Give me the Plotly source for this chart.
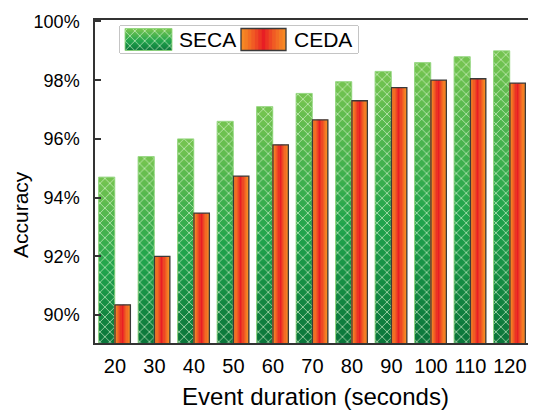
import plotly.graph_objects as go

# ---------------- data ----------------
durations = [20, 30, 40, 50, 60, 70, 80, 90, 100, 110, 120]
seca = [94.70, 95.40, 96.00, 96.60, 97.10, 97.55, 97.95, 98.30, 98.60, 98.80, 99.00]
ceda = [90.35, 92.00, 93.47, 94.73, 95.80, 96.65, 97.30, 97.75, 98.00, 98.05, 97.90]
y_ticks = [90, 92, 94, 96, 98, 100]
y_ticktext = [f"{v}%" for v in y_ticks]
series_names = ["SECA", "CEDA"]

# ---------------- style ----------------
FONT = "Liberation Sans, Arial, sans-serif"
Y0, Y1 = 89.05, 100.05
SECA_OFF, SECA_W = -4.15, 4.1
CEDA_OFF, CEDA_W = 0.0, 3.9
N_V = 26   # vertical gradient layers
N_H = 13   # horizontal gradient slices

green_stops = [(0.0, (10, 116, 58)), (0.45, (32, 164, 76)), (1.0, (118, 196, 80))]
orange = (246, 140, 36)
red = (232, 30, 36)

# page body has an 8px default margin -> work in screen pixels, shift by 8
PAGE = 8
W, H = 536 - PAGE, 412 - PAGE
# plot area in screen px: x 95..536, y 20..343
ML, MR, MT, MB = 95 - PAGE, 0, 20 - PAGE, H - (343 - PAGE)
pw, ph = W - ML - MR, H - MT - MB


def px_x(v):  # screen px -> paper
    return (v - PAGE - ML) / pw


def px_y(v):
    return (H - MB - (v - PAGE)) / ph


def interp(stops, t):
    for (t0, c0), (t1, c1) in zip(stops[:-1], stops[1:]):
        if t <= t1:
            f = (t - t0) / (t1 - t0)
            return "rgb(%d,%d,%d)" % tuple(round(a + (b - a) * f) for a, b in zip(c0, c1))
    return "rgb(%d,%d,%d)" % stops[-1][1]


def ceda_color(t):
    w = max(0.0, 1 - abs(2 * t - 1)) ** 1.3
    return "rgb(%d,%d,%d)" % tuple(round(a + (b - a) * w) for a, b in zip(orange, red))


fig = go.Figure()


def add_vertical_gradient(xs, bottoms, tops, off, width, xref, yref):
    for i in range(N_V):
        bases = [b + (t - b) * i / N_V for b, t in zip(bottoms, tops)]
        hs = [(t - b) / N_V * (1.6 if i < N_V - 1 else 1.0) for b, t in zip(bottoms, tops)]
        fig.add_trace(go.Bar(
            x=xs, y=hs, base=bases, offset=off, width=width,
            marker=dict(color=interp(green_stops, (i + 0.5) / N_V), line=dict(width=0)),
            xaxis=xref, yaxis=yref, showlegend=False, hoverinfo="skip"))
    hs = [t - b for b, t in zip(bottoms, tops)]
    fig.add_trace(go.Bar(
        x=xs, y=hs, base=bottoms, offset=off, width=width,
        marker=dict(color="rgba(0,0,0,0)",
                    line=dict(color="rgba(150,215,130,0.9)", width=1),
                    pattern=dict(shape="x", size=7, solidity=0.2,
                                 fgcolor="rgba(225,250,215,0.85)",
                                 bgcolor="rgba(0,0,0,0)", fillmode="replace")),
        xaxis=xref, yaxis=yref, showlegend=False, hoverinfo="skip"))


def add_horizontal_gradient(xs, bottoms, tops, off, width, xref, yref):
    step = width / N_H
    hs = [t - b for b, t in zip(bottoms, tops)]
    for j in range(N_H):
        w = step * 1.35 if j < N_H - 1 else step
        fig.add_trace(go.Bar(
            x=xs, y=hs, base=bottoms, offset=off + j * step, width=w,
            marker=dict(color=ceda_color((j + 0.5) / N_H), line=dict(width=0)),
            xaxis=xref, yaxis=yref, showlegend=False, hoverinfo="skip"))
    fig.add_trace(go.Bar(
        x=xs, y=hs, base=bottoms, offset=off, width=width,
        marker=dict(color="rgba(0,0,0,0)", line=dict(color="#3a3a3a", width=1.3)),
        xaxis=xref, yaxis=yref, showlegend=False, hoverinfo="skip"))


# main bars
add_vertical_gradient(durations, [89.0] * len(seca), seca, SECA_OFF, SECA_W, "x", "y")
add_horizontal_gradient(durations, [89.0] * len(ceda), ceda, CEDA_OFF, CEDA_W, "x", "y")

# ---------------- legend (helper axis in screen-pixel units) ----------------
add_vertical_gradient([148.5 - PAGE], [50.5 - PAGE], [28.5 - PAGE], -23.5, 47, "x2", "y2")
add_horizontal_gradient([263.5 - PAGE], [50.5 - PAGE], [28.5 - PAGE], -22.5, 45, "x2", "y2")

fig.add_shape(type="rect", xref="paper", yref="paper",
              x0=px_x(120), x1=px_x(358), y0=px_y(53), y1=px_y(26),
              line=dict(color="#8a8a8a", width=1), fillcolor="white", layer="below")

for name, xpos in zip(series_names, [177, 292]):
    fig.add_annotation(text=name, x=xpos - PAGE, y=39.5 - PAGE, xref="x2", yref="y2",
                       xanchor="left", yanchor="middle", showarrow=False,
                       font=dict(family=FONT, size=21, color="black"))

# y-axis title (placed as in the reference, a little below the axis centre)
fig.add_annotation(text="Accuracy", textangle=-90, xref="paper", yref="paper",
                   x=px_x(20), y=px_y(215), xanchor="center", yanchor="middle",
                   showarrow=False, font=dict(family=FONT, size=21, color="black"))

fig.update_layout(
    width=W, height=H,
    margin=dict(l=ML, r=MR, t=MT, b=MB, pad=0),
    paper_bgcolor="white", plot_bgcolor="white",
    barmode="overlay",
    showlegend=False,
    font=dict(family=FONT, color="black"),
    xaxis=dict(
        range=[14.94, 126.6], tickvals=durations, ticktext=[str(d) for d in durations],
        showgrid=False, zeroline=False, showline=True, mirror=True,
        linecolor="#333333", linewidth=1.5, ticks="",
        tickfont=dict(family=FONT, size=20), ticklabelstandoff=4,
        title=dict(text="Event duration (seconds)", font=dict(family=FONT, size=24), standoff=12),
    ),
    yaxis=dict(
        range=[Y0, Y1], tickvals=y_ticks, ticktext=y_ticktext,
        showgrid=False, zeroline=False, showline=True, mirror=False,
        linecolor="#333333", linewidth=1.5,
        ticks="inside", ticklen=6, tickwidth=1.5, tickcolor="#333333",
        tickfont=dict(family=FONT, size=18), ticklabelstandoff=10,
    ),
    xaxis2=dict(domain=[px_x(120), px_x(358)], range=[120 - PAGE, 358 - PAGE], visible=False,
                anchor="y2", fixedrange=True),
    yaxis2=dict(domain=[px_y(53), px_y(26)], range=[53 - PAGE, 26 - PAGE], visible=False,
                anchor="x2", fixedrange=True),
)

fig.write_html("out.html")
